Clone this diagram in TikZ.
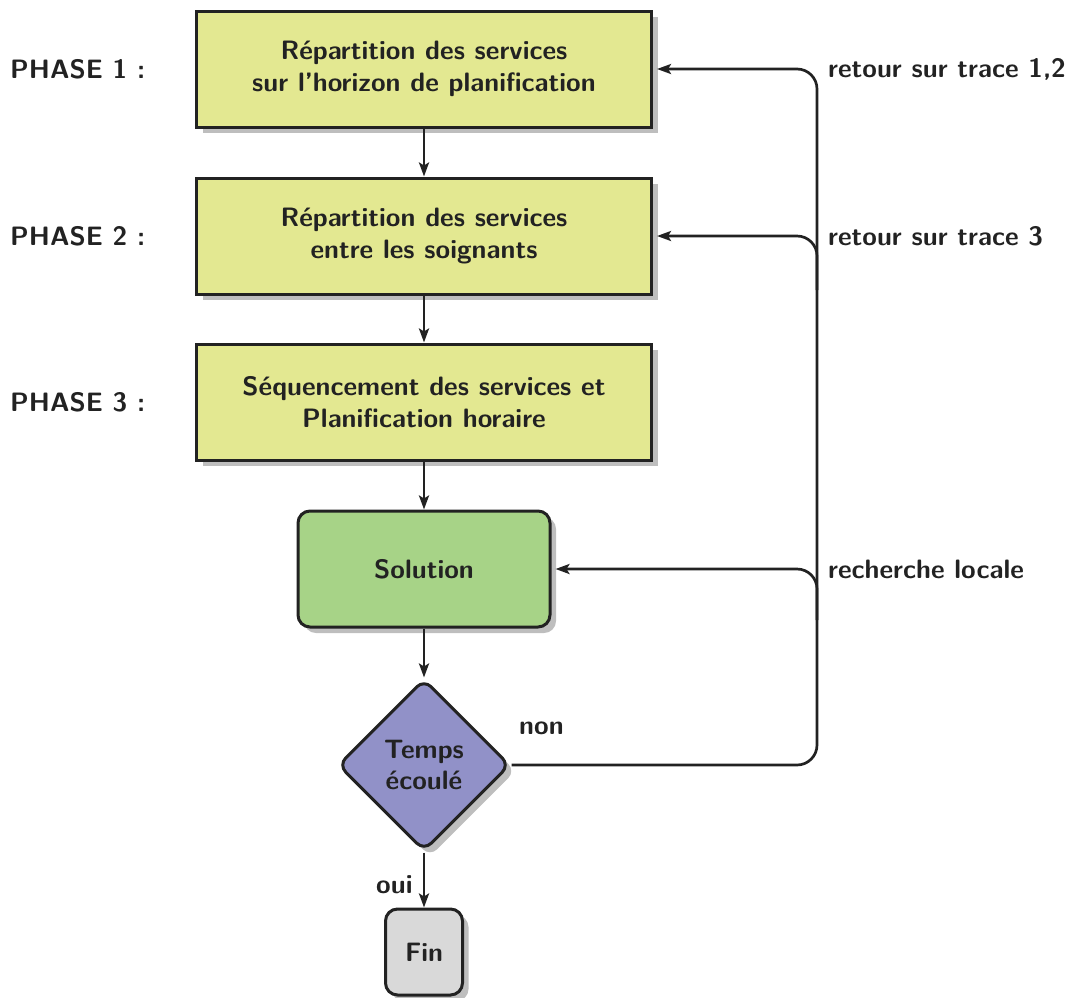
\documentclass[tikz,border=0pt]{standalone}
\usepackage{fontspec}
\usetikzlibrary{shapes.geometric,shadows,arrows.meta}
\definecolor{ink}{RGB}{34,34,34}
\definecolor{phasefill}{RGB}{227,232,145}
\definecolor{solfill}{RGB}{167,211,135}
\definecolor{decfill}{RGB}{145,145,200}
\definecolor{finfill}{RGB}{217,217,217}
\definecolor{shadowgray}{RGB}{190,190,190}
\begin{document}
\begin{tikzpicture}[x=1pt,y=-1pt,
  font=\fontsize{26.6}{31.5}\selectfont\sffamily\bfseries,
  every node/.style={text=ink},
  shadowed/.style={drop shadow={shadow xshift=6pt,shadow yshift=-6pt,fill=shadowgray,opacity=1}},
  phasebox/.style={draw=ink,line width=3pt,fill=phasefill,minimum width=455pt,minimum height=116pt,align=center,inner sep=0pt,shadowed},
  solbox/.style={draw=ink,line width=3pt,fill=solfill,rounded corners=12pt,minimum width=252pt,minimum height=116pt,align=center,inner sep=0pt,shadowed},
  decbox/.style={diamond,draw=ink,line width=3pt,fill=decfill,rounded corners=10pt,minimum width=172pt,minimum height=172pt,aspect=1,align=center,inner sep=0pt,shadowed},
  finbox/.style={draw=ink,line width=3pt,fill=finfill,rounded corners=12pt,minimum width=77pt,minimum height=86pt,align=center,inner sep=0pt,shadowed},
  sidelabel/.style={anchor=west,inner sep=0pt},
  conn/.style={draw=ink,line width=2.7pt,-{Stealth[length=14pt,width=10pt,inset=3pt]}},
  loopline/.style={draw=ink,line width=2.7pt,rounded corners=20pt},
]
\useasboundingbox (0,0) rectangle (1070,997);

\node[phasebox] (b1) at (424,69) {Répartition des services\\sur l’horizon de planification};
\node[phasebox] (b2) at (424,236) {Répartition des services\\entre les soignants};
\node[phasebox] (b3) at (424,402) {Séquencement des services et\\Planification horaire};
\node[solbox] (sol) at (424,569) {Solution};
\node[decbox] (dec) at (424,765) {Temps\\écoulé};
\node[finbox] (fin) at (424,952) {Fin};

\node[sidelabel] (p1) at (10,69) {PHASE 1 :};
\node[sidelabel] (p2) at (10,236) {PHASE 2 :};
\node[sidelabel] (p3) at (10,402) {PHASE 3 :};

\node[sidelabel] (r1) at (828,69) {retour sur trace 1,2};
\node[sidelabel] (r2) at (828,236) {retour sur trace 3};
\node[sidelabel] (r3) at (828,569) {recherche locale};
\node[sidelabel] (non) at (519,728) {non};
\node[sidelabel] (oui) at (376,885) {oui};

\draw[conn] (b1) -- (b2);
\draw[conn] (b2) -- (b3);
\draw[conn] (b3) -- (sol);
\draw[conn] (sol) -- (dec);
\draw[conn] (dec) -- (fin);

\coordinate (vbot) at (817,765);
\coordinate (vtop) at (817,69);
\coordinate (v2a) at (817,290);
\coordinate (v2) at (817,236);
\coordinate (v3a) at (817,620);
\coordinate (v3) at (817,569);

\draw[loopline,conn] (dec.east) -- (vbot) -- (vtop) -- ([xshift=4pt]b1.east);
\draw[loopline,conn] (v2a) -- (v2) -- ([xshift=4pt]b2.east);
\draw[loopline,conn] (v3a) -- (v3) -- ([xshift=4pt]sol.east);
\end{tikzpicture}
\end{document}
